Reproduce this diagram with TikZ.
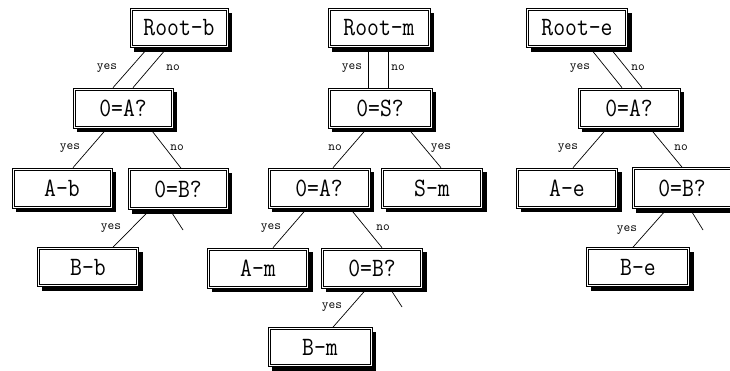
\documentclass[tikz,border=0pt]{standalone}
\usepackage{fontspec}
\usetikzlibrary{shadows,backgrounds}
\begin{document}
\begin{tikzpicture}[x=1pt,y=-1pt,
  tbox/.style={draw=black, line width=0.7pt, fill=white, rectangle,
    minimum height=40pt, inner sep=0pt,
    drop shadow={shadow xshift=4pt, shadow yshift=-4pt, fill=black, opacity=1},
    font=\ttfamily\fontsize{23}{26}\selectfont},
  inframe/.style={draw=black, line width=0.5pt},
  lbl/.style={font=\ttfamily\fontsize{13}{14}\selectfont, inner sep=0pt},
  edge/.style={draw=black, line width=0.7pt}]
\useasboundingbox (0,0) rectangle (730,370);
\newcommand{\tx}[1]{\scalebox{1}[1.15]{#1}}
% tree b
\node[tbox, minimum width=98pt, minimum height=39pt] (rb) at (179,28) {\tx{Root-b}};
\node[tbox, minimum width=100pt] (ab) at (123,108) {\tx{0=A?}};
\node[tbox, minimum width=100pt] (Ab) at (62,188) {\tx{A-b}};
\node[tbox, minimum width=100pt, minimum height=41pt] (Bb) at (178,189) {\tx{0=B?}};
\node[tbox, minimum width=101pt, minimum height=39pt] (bb) at (88,267) {\tx{B-b}};
% tree m
\node[tbox, minimum width=102pt, minimum height=39pt] (rm) at (379,28) {\tx{Root-m}};
\node[tbox, minimum width=104pt] (sm) at (380,108) {\tx{0=S?}};
\node[tbox, minimum width=102pt] (am) at (319,188) {\tx{0=A?}};
\node[tbox, minimum width=101pt] (Sm) at (432,188) {\tx{S-m}};
\node[tbox, minimum width=101pt] (Am) at (258,268) {\tx{A-m}};
\node[tbox, minimum width=101pt] (Bm) at (372,268) {\tx{0=B?}};
\node[tbox, minimum width=104pt, minimum height=39pt] (bm) at (320,347) {\tx{B-m}};
% tree e
\node[tbox, minimum width=101pt, minimum height=39pt] (re) at (577,28) {\tx{Root-e}};
\node[tbox, minimum width=102pt] (ae) at (629,108) {\tx{0=A?}};
\node[tbox, minimum width=101pt] (Ae) at (567,188) {\tx{A-e}};
\node[tbox, minimum width=100pt, minimum height=41pt] (Be) at (682,188) {\tx{0=B?}};
\node[tbox, minimum width=103pt, minimum height=39pt] (be) at (638,267) {\tx{B-e}};
% inner frames
\foreach \n in {rb,ab,Ab,Bb,bb,rm,sm,am,Sm,Am,Bm,bm,re,ae,Ae,Be,be}{
  \draw[inframe] ([shift={(2.2pt,-2.2pt)}]\n.north west) rectangle ([shift={(-2.2pt,2.2pt)}]\n.south east);
}
% stub ends
\coordinate (sb) at (183,230);
\coordinate (smb) at (402,307);
\coordinate (se) at (703,230);
\begin{pgfonlayer}{background}
% b
\draw[edge] ([xshift=-31pt]rb.south) -- ([xshift=-10pt]ab.north);
\draw[edge] ([xshift=-12pt]rb.south) -- ([xshift=10pt]ab.north);
\draw[edge] ([xshift=-16pt]ab.south) -- ([xshift=11pt]Ab.north);
\draw[edge] ([xshift=27pt]ab.south) -- ([xshift=3pt]Bb.north);
\draw[edge] ([xshift=-28pt]Bb.south) -- ([xshift=25pt]bb.north);
\draw[edge] ([xshift=-8pt]Bb.south) -- (sb);
% m
\draw[edge] ([xshift=-11pt]rm.south) -- ([xshift=-12pt]sm.north);
\draw[edge] ([xshift=9pt]rm.south) -- ([xshift=8pt]sm.north);
\draw[edge] ([xshift=-13pt]sm.south) -- ([xshift=14pt]am.north);
\draw[edge] ([xshift=28pt]sm.south) -- ([xshift=9pt]Sm.north);
\draw[edge] ([xshift=-12pt]am.south) -- ([xshift=15pt]Am.north);
\draw[edge] ([xshift=31pt]am.south) -- ([xshift=10pt]Bm.north);
\draw[edge] ([xshift=-5pt]Bm.south) -- ([xshift=13pt]bm.north);
\draw[edge] ([xshift=18pt]Bm.south) -- (smb);
% e
\draw[edge] ([xshift=13pt]re.south) -- ([xshift=-7pt]ae.north);
\draw[edge] ([xshift=33pt]re.south) -- ([xshift=13pt]ae.north);
\draw[edge] ([xshift=-22pt]ae.south) -- ([xshift=6pt]Ae.north);
\draw[edge] ([xshift=21pt]ae.south) -- (Be.north);
\draw[edge] ([xshift=-15pt]Be.south) -- ([xshift=-5pt]be.north);
\draw[edge] ([xshift=8pt]Be.south) -- (se);
\end{pgfonlayer}
% labels
\node[lbl] (l1) at (107,68) {yes};
\node[lbl] (l2) at (173,68) {no};
\node[lbl] (l3) at (70,148) {yes};
\node[lbl] (l4) at (177,148) {no};
\node[lbl] (l5) at (111,228) {yes};
\node[lbl] (l6) at (352,68) {yes};
\node[lbl] (l7) at (398,68) {no};
\node[lbl] (l8) at (335,148) {no};
\node[lbl] (l9) at (441,148) {yes};
\node[lbl] (l10) at (271,228) {yes};
\node[lbl] (l11) at (383,228) {no};
\node[lbl] (l12) at (332,307) {yes};
\node[lbl] (l13) at (580,68) {yes};
\node[lbl] (l14) at (638,68) {no};
\node[lbl] (l15) at (568,148) {yes};
\node[lbl] (l16) at (681,148) {no};
\node[lbl] (l17) at (627,230) {yes};
\end{tikzpicture}
\end{document}
